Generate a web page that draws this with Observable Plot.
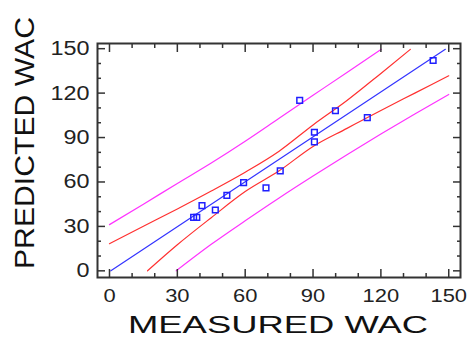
<!DOCTYPE html>
<html>
<head>
<meta charset="utf-8">
<script src="https://cdn.jsdelivr.net/npm/d3@7"></script>
<script src="https://cdn.jsdelivr.net/npm/@observablehq/plot@0.6"></script>
<style>
  html, body { margin: 0; padding: 0; background: #fff; }
  #chart { width: 471px; height: 338px; }
</style>
</head>
<body>
<div id="chart"></div>
<script>
// Observed points
const measured  = [37.2, 38.6, 40.9, 46.8, 51.9, 59.3, 69.2, 75.5, 84.1, 90.6, 90.6, 99.9, 114.0, 143.1];
const predicted = [36.1, 36.1, 44.0, 41.1, 51.0, 59.6, 56.0, 67.5, 115.1, 93.6, 87.1, 108.1, 103.4, 142.0];

// Fitted line
const fitX = [0.6, 148.5];
const fitY = [0, 149.6];

// Confidence limits (red)
const upperConfX = [0, 15, 30, 45, 60, 75, 90, 105, 120, 133];
const upperConfY = [18.3, 30.1, 41.8, 53.9, 66.6, 80.8, 98.5, 115.0, 133.3, 149.5];
const lowerConfX = [16.8, 30, 45, 60, 75, 90, 105, 120, 135, 150];
const lowerConfY = [0, 17.6, 35.9, 53.5, 67.5, 84.0, 96.2, 108.3, 120.0, 131.7];

// Prediction limits (magenta)
const upperPredX = [0, 15, 30, 45, 60, 75, 90, 105, 120.2];
const upperPredY = [31.2, 45.0, 59.0, 72.8, 87.5, 103.0, 118.5, 134.0, 149.6];
const lowerPredX = [29.5, 45, 60, 75, 90, 105, 120, 135, 150];
const lowerPredY = [0, 17.9, 33.8, 49.2, 64.0, 78.4, 92.4, 105.9, 119.1];

// Ticks
const majorTicks = [0, 30, 60, 90, 120, 150];
const minorTicks = [10, 20, 40, 50, 70, 80, 100, 110, 130, 140];

const xLabel = "MEASURED WAC";
const yLabel = "PREDICTED WAC";

const zip = (xs, ys) => xs.map((x, i) => ({x, y: ys[i]}));
const points = zip(measured, predicted);

const inwardTicks = [];
for (const anchor of ["bottom", "top"]) {
  inwardTicks.push(Plot.axisX({anchor, ticks: minorTicks, tickSize: -4, text: null, label: null, stroke: "#333", strokeWidth: 1.5}));
  inwardTicks.push(Plot.axisX({anchor, ticks: majorTicks, tickSize: -8, text: null, label: null, stroke: "#333", strokeWidth: 1.5}));
}
for (const anchor of ["left", "right"]) {
  inwardTicks.push(Plot.axisY({anchor, ticks: minorTicks, tickSize: -4, text: null, label: null, stroke: "#333", strokeWidth: 1.5}));
  inwardTicks.push(Plot.axisY({anchor, ticks: majorTicks, tickSize: -8, text: null, label: null, stroke: "#333", strokeWidth: 1.5}));
}

const chart = Plot.plot({
  width: 471,
  height: 338,
  marginLeft: 97,
  marginRight: 11,
  marginTop: 43,
  marginBottom: 61,
  style: {fontFamily: "'Liberation Sans', Arial, sans-serif", background: "#fff", color: "#222"},
  x: {domain: [-5.3, 155.2]},
  y: {domain: [-4.5, 153.5]},
  marks: [
    Plot.line(zip(upperPredX, upperPredY), {x: "x", y: "y", stroke: "#ff33ff", strokeWidth: 1.2, curve: "monotone-x"}),
    Plot.line(zip(lowerPredX, lowerPredY), {x: "x", y: "y", stroke: "#ff33ff", strokeWidth: 1.2, curve: "monotone-x"}),
    Plot.line(zip(upperConfX, upperConfY), {x: "x", y: "y", stroke: "#ff3030", strokeWidth: 1.2, curve: "monotone-x"}),
    Plot.line(zip(lowerConfX, lowerConfY), {x: "x", y: "y", stroke: "#ff3030", strokeWidth: 1.2, curve: "monotone-x"}),
    Plot.line(zip(fitX, fitY), {x: "x", y: "y", stroke: "#3333ff", strokeWidth: 1.2}),
    Plot.dot(points, {x: "x", y: "y", symbol: "square", r: 3.2, stroke: "#1f1fff", strokeWidth: 1.5, fill: "none"}),
    ...inwardTicks,
    Plot.axisX({anchor: "bottom", ticks: majorTicks, tickSize: 0, tickPadding: 11, fontSize: 19, label: null}),
    Plot.axisY({anchor: "left", ticks: majorTicks, tickSize: 0, tickPadding: 8, fontSize: 20, label: null}),
    Plot.frame({stroke: "#333", strokeWidth: 2})
  ]
});

document.getElementById("chart").appendChild(chart);

const svg = d3.select(chart);
svg.selectAll('g[aria-label="x-axis tick label"] text').each(function() {
  const n = this.textContent.length;
  d3.select(this).attr("textLength", n * 12.2).attr("lengthAdjust", "spacingAndGlyphs");
});
svg.selectAll('g[aria-label="y-axis tick label"] text').each(function() {
  const n = this.textContent.length;
  d3.select(this).attr("textLength", n * 13).attr("lengthAdjust", "spacingAndGlyphs");
});

svg.append("text")
  .attr("x", 278).attr("y", 333)
  .attr("text-anchor", "middle")
  .attr("font-size", 24)
  .attr("fill", "#111")
  .attr("textLength", 300).attr("lengthAdjust", "spacingAndGlyphs")
  .text(xLabel);

svg.append("text")
  .attr("transform", "translate(34,143) rotate(-90)")
  .attr("text-anchor", "middle")
  .attr("font-size", 28)
  .attr("fill", "#111")
  .attr("textLength", 252).attr("lengthAdjust", "spacingAndGlyphs")
  .text(yLabel);
</script>
</body>
</html>
